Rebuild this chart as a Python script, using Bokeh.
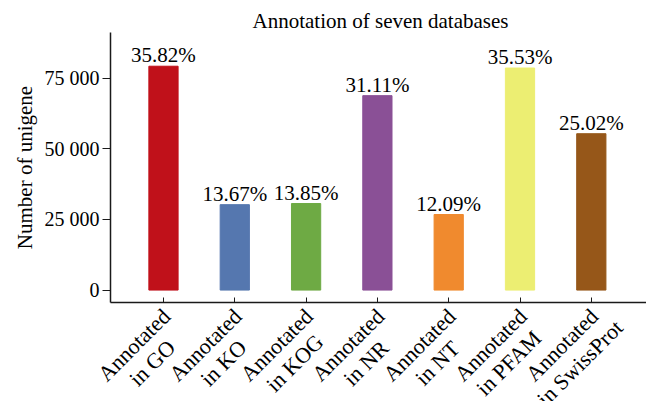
import math
from bokeh.plotting import figure
from bokeh.layouts import column, row
from bokeh.models import Range1d, FixedTicker, ColumnDataSource
from bokeh.core.properties import value
from bokeh.embed import file_html
from bokeh.resources import INLINE

categories = ["Annotated\nin GO", "Annotated\nin KO", "Annotated\nin KOG", "Annotated\nin NR",
              "Annotated\nin NT", "Annotated\nin PFAM", "Annotated\nin SwissProt"]
counts = [79270, 30250, 30650, 68850, 26760, 78630, 55370]
percent_labels = ["35.82%", "13.67%", "13.85%", "31.11%", "12.09%", "35.53%", "25.02%"]
colors = ["#C0111A", "#5577AF", "#6EAA44", "#8A5096", "#F08A2E", "#ECEE72", "#965719"]
y_ticks = [0, 25000, 50000, 75000]
y_tick_labels = ["0", "25 000", "50 000", "75 000"]

FONT = "'Liberation Serif', 'Times New Roman', serif"

W = 646
LEFT, TOP, BOTTOM_GAP = 110, 32, 3
FRAME_H = 270
TOP_H = TOP + FRAME_H + BOTTOM_GAP
LAB_H = 401 - TOP_H

xs = list(range(len(categories)))
x0, x1 = -0.743, 6.774
y0, y1 = -4396, 91210
px_per_unit = (W - LEFT) / (x1 - x0)

src = ColumnDataSource(dict(x=xs, top=counts, lab=percent_labels, color=colors))

p = figure(width=W, height=TOP_H, output_backend="svg", toolbar_location=None,
           x_range=Range1d(x0, x1), y_range=Range1d(y0, y1),
           title="Annotation of seven databases",
           min_border_left=LEFT, min_border_top=TOP, min_border_right=0,
           min_border_bottom=BOTTOM_GAP)

p.title.text_font = FONT
p.title.text_font_size = "21px"
p.title.text_font_style = "normal"
p.title.align = "left"
p.title.offset = 142
p.title.text_color = "#000000"
p.title.standoff = 0

p.vbar(x="x", top="top", width=0.41, bottom=0, fill_color="color", line_color="color", source=src)
p.text(x="x", y="top", text="lab", source=src, text_align="center", text_baseline="bottom",
       y_offset=1, text_font=value(FONT), text_font_size="21px", text_color="#000000")

p.outline_line_color = None
p.xgrid.visible = False
p.ygrid.visible = False

p.yaxis.ticker = FixedTicker(ticks=y_ticks)
p.yaxis.major_label_overrides = {t: l for t, l in zip(y_ticks, y_tick_labels)}
p.yaxis.minor_tick_line_color = None
p.yaxis.major_tick_out = 8
p.yaxis.major_tick_in = 0
p.yaxis.major_label_standoff = 3
p.yaxis.axis_label = "Number of unigene"
p.yaxis.axis_label_text_font = FONT
p.yaxis.axis_label_text_font_size = "21px"
p.yaxis.axis_label_text_font_style = "normal"
p.yaxis.major_label_text_font = FONT
p.yaxis.major_label_text_font_size = "20px"

p.xaxis.ticker = FixedTicker(ticks=xs)
p.xaxis.minor_tick_line_color = None
p.xaxis.major_tick_in = 5
p.xaxis.major_tick_out = 0
p.xaxis.major_label_standoff = 0
p.xaxis.major_label_text_font_size = "0px"
p.xaxis.major_label_text_color = None

for ax in (p.xaxis, p.yaxis):
    ax.axis_line_color = "#1a1a1a"
    ax.axis_line_width = 1.5
    ax.major_tick_line_color = "#1a1a1a"
    ax.axis_label_text_color = "#000000"
p.yaxis.major_label_text_color = "#000000"

# category labels drawn in a strip below the chart, same horizontal scale
lab_x0 = x0 - LEFT / px_per_unit
p2 = figure(width=W, height=LAB_H, output_backend="svg", toolbar_location=None,
            x_range=Range1d(lab_x0, x1), y_range=Range1d(-LAB_H, 0),
            min_border_left=0, min_border_right=0, min_border_top=0, min_border_bottom=0)
p2.axis.visible = False
p2.grid.visible = False
p2.outline_line_color = None

label_dx = -20.4 / px_per_unit
label_dy = -(51.5 - BOTTOM_GAP)
lab_src = ColumnDataSource(dict(x=[v + label_dx for v in xs], y=[label_dy] * len(xs), cat=categories))
p2.text(x="x", y="y", text="cat", source=lab_src, angle=math.pi / 4,
        text_align="center", text_baseline="middle",
        text_font=value(FONT), text_font_size="22px", text_color="#000000",
        text_line_height=1.02)

layout = column(p, row(p2, spacing=0), spacing=0)
open("out.html", "w").write(file_html(layout, INLINE))
